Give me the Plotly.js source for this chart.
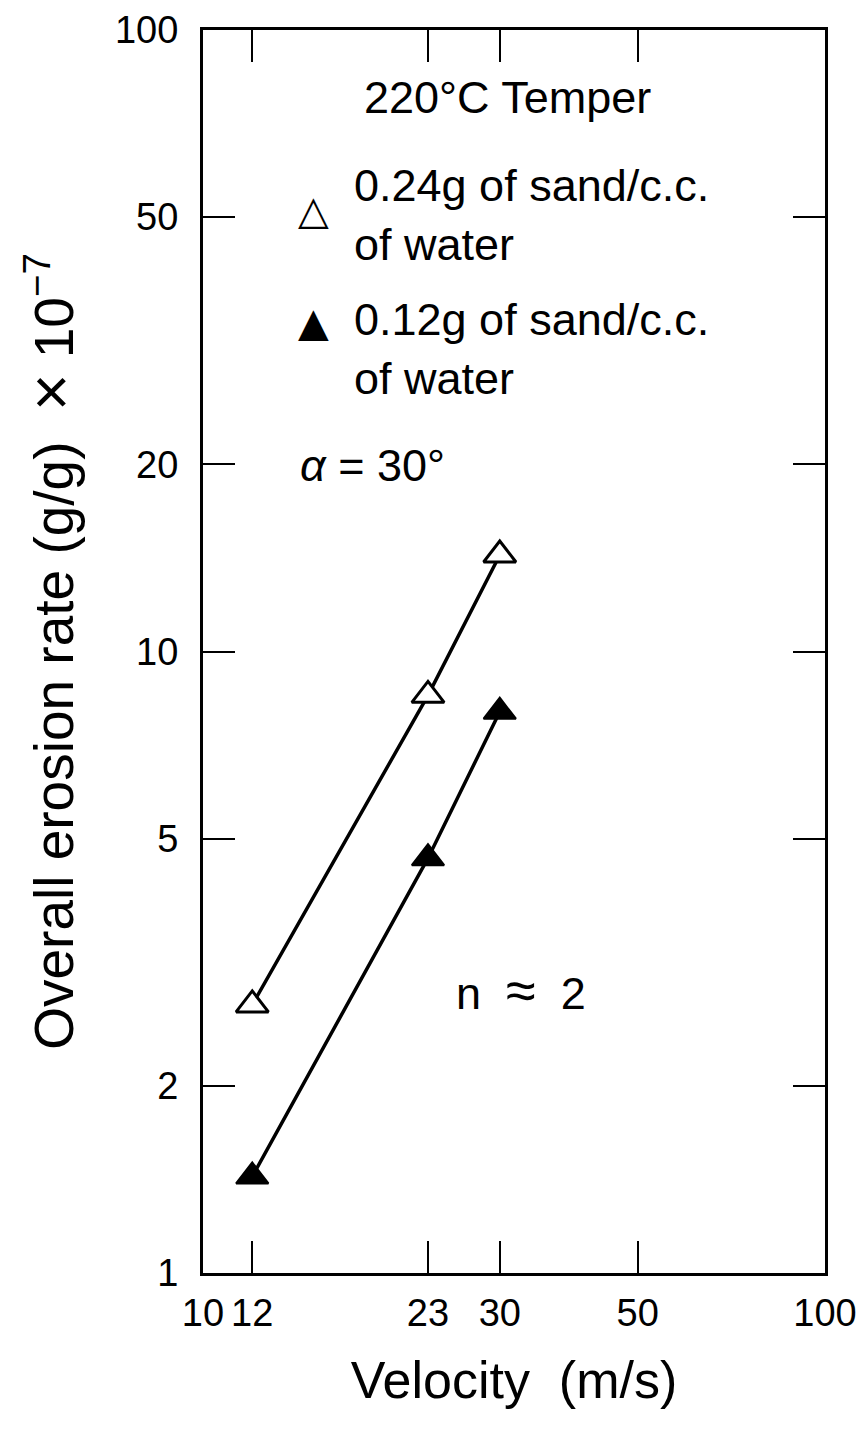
<!DOCTYPE html>
<html>
<head>
<meta charset="utf-8">
<script src="https://cdn.plot.ly/plotly-3.0.1.min.js"></script>
<style>html,body{margin:0;padding:0;background:#fff;}#chart{width:860px;height:1444px;}</style>
</head>
<body>
<div id="chart"></div>
<script>
// Data
const velocity = [12, 23, 30];
const rateHighSand = [2.7, 8.5, 14.3];   // 0.24 g of sand / c.c. of water (open triangles)
const rateLowSand = [1.43, 4.65, 8.0];   // 0.12 g of sand / c.c. of water (filled triangles)

const xTickVals = [10, 12, 23, 30, 50, 100];
const xTickText = ['10', '12', '23', '30', '50', '100'];
const yTickVals = [1, 2, 5, 10, 20, 50, 100];
const yTickText = ['1', '2', '5', '10', '20', '50', '100'];

const FONT = 'Liberation Sans, Arial, Helvetica, sans-serif';

const traces = [
  {
    x: velocity, y: rateHighSand, mode: 'lines+markers', type: 'scatter',
    name: '0.24g of sand/c.c. of water',
    line: {color: '#000', width: 3.5},
    marker: {symbol: 'triangle-up', size: 28, color: '#fff', line: {color: '#000', width: 3}},
    showlegend: false
  },
  {
    x: velocity, y: rateLowSand, mode: 'lines+markers', type: 'scatter',
    name: '0.12g of sand/c.c. of water',
    line: {color: '#000', width: 3.5},
    marker: {symbol: 'triangle-up', size: 28, color: '#000', line: {color: '#000', width: 2}},
    showlegend: false
  }
];

const annFont = {family: FONT, size: 45, color: '#000'};
const symFont = {family: 'DejaVu Sans', size: 40, color: '#000'};
const layout = {
  width: 860, height: 1444,
  margin: {l: 203, r: 35, t: 30, b: 171},
  paper_bgcolor: '#fff', plot_bgcolor: '#fff',
  showlegend: false,
  font: {family: FONT, color: '#000'},
  xaxis: {
    type: 'log', range: [1, 2],
    tickvals: xTickVals, ticktext: xTickText,
    ticks: 'inside', ticklen: 32, tickwidth: 2, tickcolor: '#000',
    showline: true, linecolor: '#000', linewidth: 3, mirror: 'ticks',
    showgrid: false, zeroline: false,
    tickfont: {family: FONT, size: 38, color: '#000'},
    ticklabelstandoff: 4,
    title: {text: 'Velocity&nbsp;&nbsp;(m/s)', font: {family: FONT, size: 52, color: '#000'}, standoff: 30}
  },
  yaxis: {
    type: 'log', range: [0, 2],
    tickvals: yTickVals, ticktext: yTickText,
    ticks: 'inside', ticklen: 32, tickwidth: 2, tickcolor: '#000',
    showline: true, linecolor: '#000', linewidth: 3, mirror: 'ticks',
    showgrid: false, zeroline: false,
    tickfont: {family: FONT, size: 38, color: '#000'},
    ticklabelstandoff: 14,
    title: {text: 'Overall erosion rate (g/g) &nbsp;<span style="font-size:64px">×</span> 10<sup>−7</sup>', font: {family: FONT, size: 55, color: '#000'}, standoff: 24}
  },
  annotations: [
    {xref: 'paper', yref: 'paper', x: 0.490, y: 0.946, text: '220°C Temper', showarrow: false, font: annFont, xanchor: 'center', yanchor: 'middle'},
    {xref: 'paper', yref: 'paper', x: 0.177, y: 0.8548, text: '△', showarrow: false, font: symFont, xanchor: 'center', yanchor: 'middle'},
    {xref: 'paper', yref: 'paper', x: 0.2395, y: 0.851, text: '0.24g of sand/c.c.<br>of water', showarrow: false, font: annFont, xanchor: 'left', yanchor: 'middle', align: 'left'},
    {xref: 'paper', yref: 'paper', x: 0.177, y: 0.765, text: '▲', showarrow: false, font: symFont, xanchor: 'center', yanchor: 'middle'},
    {xref: 'paper', yref: 'paper', x: 0.2395, y: 0.743, text: '0.12g of sand/c.c.<br>of water', showarrow: false, font: annFont, xanchor: 'left', yanchor: 'middle', align: 'left'},
    {xref: 'paper', yref: 'paper', x: 0.272, y: 0.650, text: '<i>α</i> = 30°', showarrow: false, font: annFont, xanchor: 'center', yanchor: 'middle'},
    {xref: 'paper', yref: 'paper', x: 0.511, y: 0.2277, text: 'n&nbsp;&nbsp;<span style="font-size:54px">≈</span>&nbsp;&nbsp;2', showarrow: false, font: annFont, xanchor: 'center', yanchor: 'middle'}
  ]
};

Plotly.newPlot('chart', traces, layout, {displayModeBar: false, staticPlot: true});
</script>
</body>
</html>
